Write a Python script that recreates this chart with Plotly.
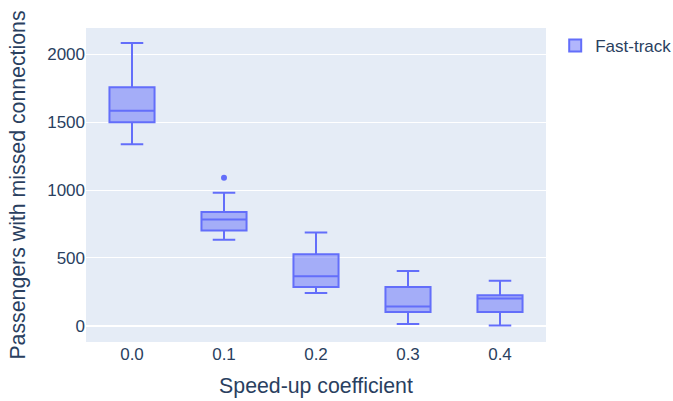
import plotly.graph_objects as go

categories = ["0.0", "0.1", "0.2", "0.3", "0.4"]
q1 = [1499, 703, 287, 103, 103]
median = [1584, 784, 366, 143, 202]
q3 = [1757, 838, 528, 287, 226]
lowerfence = [1337, 634, 243, 15, 3]
upperfence = [2081, 980, 688, 405, 332]
outlier_x = ["0.1"]
outlier_y = [1091]

fig = go.Figure()
fig.add_trace(go.Box(
    x=categories, q1=q1, median=median, q3=q3,
    lowerfence=lowerfence, upperfence=upperfence,
    name="Fast-track", marker_color="#636efa",
    line=dict(width=2), boxpoints=False,
    legendgroup="ft",
))
fig.add_trace(go.Scatter(
    x=outlier_x, y=outlier_y, mode="markers",
    marker=dict(color="#636efa", size=6),
    showlegend=False, legendgroup="ft", hoverinfo="y",
))
fig.update_layout(
    width=673, height=401,
    template="plotly",
    font=dict(family="Liberation Sans, Arial, sans-serif", size=17, color="#2a3f5f"),
    margin=dict(l=86, r=127, t=28, b=59, autoexpand=False),
    showlegend=True,
    legend=dict(x=1.02, y=1, xanchor="left", yanchor="top"),
    xaxis=dict(title=dict(text="Speed-up coefficient", font=dict(size=21.3)), type="category"),
    yaxis=dict(title=dict(text="Passengers with missed connections", font=dict(size=21.3)),
               range=[-118, 2192], tickvals=[0, 500, 1000, 1500, 2000]),
)
fig.write_html("out.html")
